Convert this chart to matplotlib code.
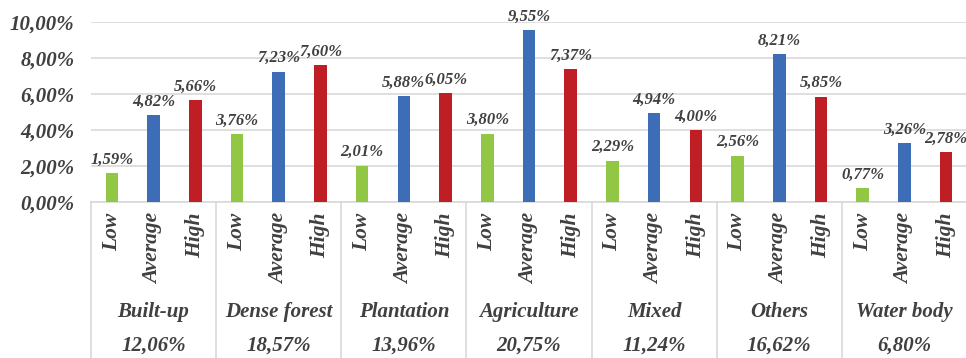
import numpy as np
import matplotlib
matplotlib.use('Agg')
import matplotlib.pyplot as plt
import matplotlib.transforms as mtrans

classes=['Built-up','Dense forest','Plantation','Agriculture','Mixed','Others','Water body']
totals=['12,06%','18,57%','13,96%','20,75%','11,24%','16,62%','6,80%']
levels=['Low','Average','High']
low=[1.59,3.76,2.01,3.80,2.29,2.56,0.77]
average=[4.82,7.23,5.88,9.55,4.94,8.21,3.26]
high=[5.66,7.60,6.05,7.37,4.00,5.85,2.78]
colors=['#92C746','#3C6DB6','#BF1E25']
txt='#404040'

plt.rcParams['font.family']=['Liberation Serif','DejaVu Serif']
fig=plt.figure(figsize=(9.66,3.58),dpi=100)
ax=fig.add_axes([91/966,1-202/358,876/966,180/358])

series=[low,average,high]
offs=[1/6,1/2,5/6]
for s in range(0,3):
    x=np.arange(len(classes))+offs[s]
    bars=ax.bar(x,series[s],width=0.1,color=colors[s],zorder=3)
    for b,v in zip(bars,series[s]):
        ax.annotate(('%.2f%%'%v).replace('.',','),(b.get_x()+b.get_width()/2,v),
                    xytext=(0,4),textcoords='offset points',ha='center',va='bottom',
                    fontsize=12,fontweight='bold',fontstyle='italic',color=txt)

ax.set_xlim(0,7)
ax.set_ylim(0,10)
ax.set_yticks(np.arange(0,11,2))
ax.set_yticklabels([('%.2f%%'%t).replace('.',',') for t in np.arange(0,11,2)],
                   fontsize=15,fontweight='bold',fontstyle='italic',color=txt)
ax.tick_params(axis='y',length=0,pad=12)
ax.set_xticks([])
ax.grid(axis='y',color='#D9D9D9',lw=1.2,zorder=0)
for sp in ['left','right','top']:
    ax.spines[sp].set_visible(False)
ax.spines['bottom'].set_color('#D9D9D9')
ax.spines['bottom'].set_linewidth(1.2)

# category axis below the plot
tr=mtrans.blended_transform_factory(ax.transData,ax.transAxes)
for g in range(0,len(classes)+1):
    ax.plot([g,g],[0,-0.87],transform=tr,color='#D9D9D9',lw=1.2,clip_on=False)
for g in range(0,len(classes)):
    for s in range(0,3):
        ax.text(g+offs[s],-0.06,levels[s],transform=tr,rotation=90,ha='center',va='top',
                fontsize=15.5,fontweight='bold',fontstyle='italic',color=txt)
    ax.text(g+0.5,-0.612,classes[g],transform=tr,ha='center',va='center',
            fontsize=15,fontweight='bold',fontstyle='italic',color=txt)
    ax.text(g+0.5,-0.8,totals[g],transform=tr,ha='center',va='center',
            fontsize=15,fontweight='bold',fontstyle='italic',color=txt)

fig.savefig('out.png',dpi=100)
